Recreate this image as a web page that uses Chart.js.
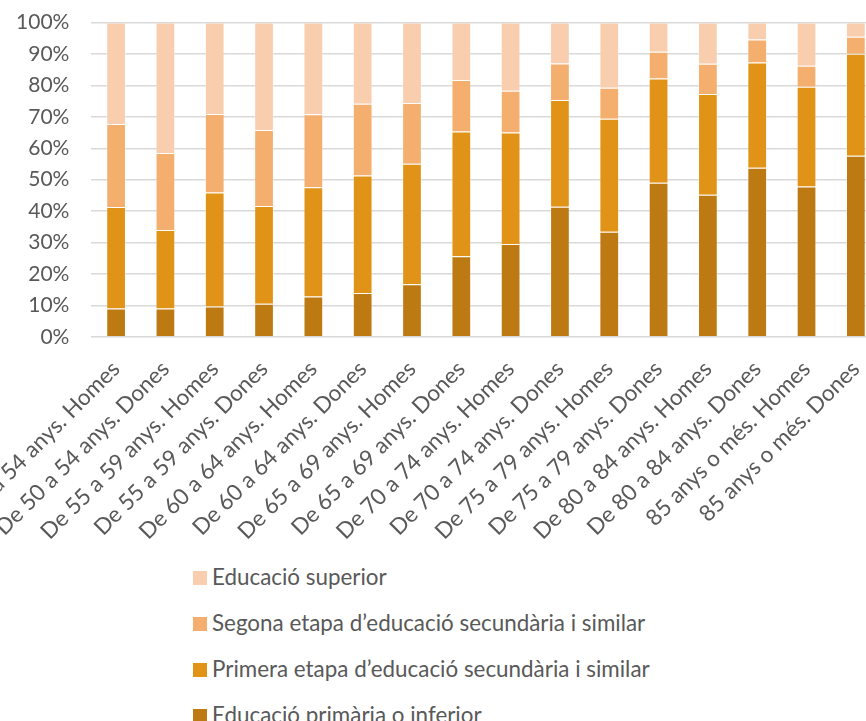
<!DOCTYPE html>
<html>
<head>
<meta charset="utf-8">
<script src="https://cdn.jsdelivr.net/npm/chart.js@4.4.0/dist/chart.umd.min.js"></script>
<style>
  html, body { margin: 0; padding: 0; background: #fff; overflow: hidden; width: 866px; height: 721px; }
  #wrap { position: absolute; left: 0; top: 0; }
  #legend { position: absolute; left: 193px; top: 563px; font-family: Lato, sans-serif; font-size: 22.4px; color: #595959; }
  #legend div { height: 46px; display: flex; align-items: flex-start; white-space: nowrap; }
  #legend span.box { display: inline-block; width: 14px; height: 14px; margin: 8px 5px 0 0; }
</style>
</head>
<body>
<div id="wrap"><canvas id="chart" width="1000" height="560"></canvas></div>
<div id="legend"></div>
<script>
// categories (edat i sexe)
const categories = [
  'De 50 a 54 anys. Homes', 'De 50 a 54 anys. Dones',
  'De 55 a 59 anys. Homes', 'De 55 a 59 anys. Dones',
  'De 60 a 64 anys. Homes', 'De 60 a 64 anys. Dones',
  'De 65 a 69 anys. Homes', 'De 65 a 69 anys. Dones',
  'De 70 a 74 anys. Homes', 'De 70 a 74 anys. Dones',
  'De 75 a 79 anys. Homes', 'De 75 a 79 anys. Dones',
  'De 80 a 84 anys. Homes', 'De 80 a 84 anys. Dones',
  '85 anys o més. Homes', '85 anys o més. Dones'
];

// percentatges per nivell educatiu
const primaria = [9.0, 9.0, 9.6, 10.5, 12.8, 13.9, 16.7, 25.6, 29.5, 41.4, 33.4, 49.0, 45.2, 53.8, 47.8, 57.6];
const primeraEtapa = [32.3, 25.0, 36.3, 31.1, 34.8, 37.4, 38.4, 39.7, 35.5, 34.0, 36.0, 33.2, 32.1, 33.5, 31.8, 32.5];
const segonaEtapa = [26.4, 24.5, 25.0, 24.2, 23.2, 22.9, 19.3, 16.4, 13.3, 11.6, 9.9, 8.5, 9.6, 7.3, 6.7, 5.4];
const superior = [32.3, 41.5, 29.1, 34.2, 29.2, 25.8, 25.6, 18.3, 21.7, 13.0, 20.7, 9.3, 13.1, 5.4, 13.7, 4.5];

const yTicks = [0, 10, 20, 30, 40, 50, 60, 70, 80, 90, 100];

const FONT = 'Lato';
const GREY = '#595959';

// where the plot area sits in the original picture
const PLOT_LEFT = 91, PLOT_TOP = 22.5, PLOT_W = 792, PLOT_H = 314.2;

function ds(label, data, color) {
    return {
        label: label,
        data: data,
        backgroundColor: color,
        borderColor: 'rgba(255,255,255,0.35)',
        borderWidth: 1,
        categoryPercentage: 0.4,
        barPercentage: 1.0
    };
}

function config() {
    return {
        type: 'bar',
        data: {
            labels: categories,
            datasets: [
                ds('Educació primària o inferior', primaria, '#BD7A12'),
                ds('Primera etapa d\u2019educació secundària i similar', primeraEtapa, '#E19318'),
                ds('Segona etapa d\u2019educació secundària i similar', segonaEtapa, '#F4AE6E'),
                ds('Educació superior', superior, '#F8CEAF')
            ]
        },
        options: {
            responsive: false,
            maintainAspectRatio: false,
            animation: false,
            devicePixelRatio: 1,
            layout: { padding: { top: 12, right: 0, bottom: 0, left: 0 } },
            plugins: {
                legend: { display: false },
                tooltip: { enabled: false }
            },
            scales: {
                x: {
                    stacked: true,
                    grid: { display: false },
                    border: { display: false },
                    ticks: {
                        color: GREY,
                        font: { family: FONT, size: 22.5 },
                        maxRotation: 45,
                        minRotation: 45,
                        autoSkip: false,
                        padding: 11
                    }
                },
                y: {
                    stacked: true,
                    min: 0,
                    max: 100,
                    afterBuildTicks: axis => { axis.ticks = yTicks.map(v => ({ value: v })); },
                    grid: { color: '#D9D9D9', lineWidth: 1.5, drawTicks: false },
                    border: { display: false },
                    ticks: {
                        color: GREY,
                        font: { family: FONT, size: 21 },
                        padding: 22,
                        callback: v => v + '%'
                    }
                }
            }
        }
    };
}

const canvas = document.getElementById('chart');
let chart = new Chart(canvas, config());

// second pass: size the canvas so the plot area has the original's size, then shift it into place
let a = chart.chartArea;
const newW = Math.round(canvas.width + PLOT_W - (a.right - a.left));
const newH = Math.round(canvas.height + PLOT_H - (a.bottom - a.top));
chart.destroy();
canvas.width = newW;
canvas.height = newH;
canvas.style.width = newW + 'px';
canvas.style.height = newH + 'px';
chart = new Chart(canvas, config());
a = chart.chartArea;
const wrap = document.getElementById('wrap');
wrap.style.left = (PLOT_LEFT - a.left) + 'px';
wrap.style.top = (PLOT_TOP - a.top) + 'px';

// legend, in reverse order like the original
const legendBox = document.getElementById('legend');
chart.data.datasets.slice().reverse().forEach(d => {
    const row = document.createElement('div');
    row.innerHTML = '<span class="box" style="background:' + d.backgroundColor + '"></span><span>' + d.label + '</span>';
    legendBox.appendChild(row);
});
</script>
</body>
</html>
